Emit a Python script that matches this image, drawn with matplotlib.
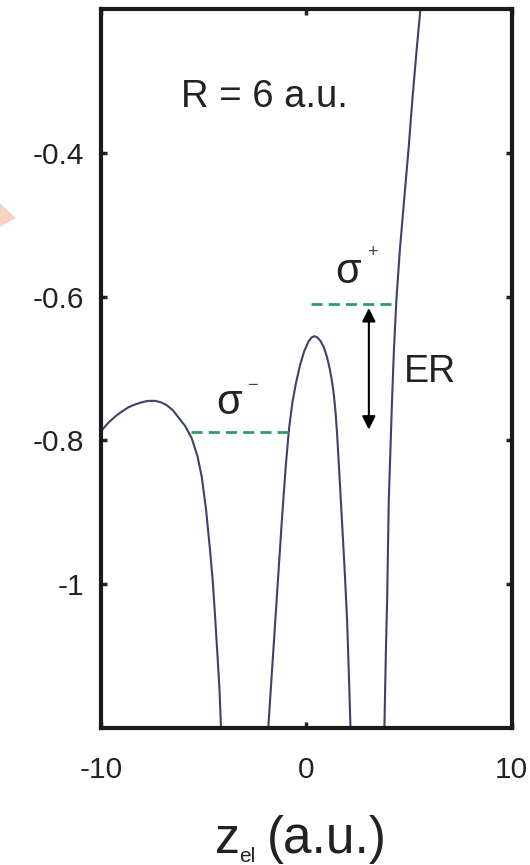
import numpy as np
import matplotlib
matplotlib.use('Agg')
import matplotlib.pyplot as plt
from matplotlib.patches import Polygon

plt.rcParams['font.family'] = ['Liberation Sans', 'DejaVu Sans']

# potential curve (three visible pieces between the nuclei)
z_left  = [-10.0, -9.66, -9.32, -8.99, -8.67, -8.34, -8.01, -7.70, -7.37, -7.08,
           -6.80, -6.50, -6.23, -5.90, -5.58, -5.30, -5.09, -4.88, -4.68, -4.55,
           -4.44, -4.33, -4.23, -4.16, -4.14]
v_left  = [-0.787, -0.776, -0.767, -0.760, -0.754, -0.750, -0.747, -0.745, -0.745, -0.747,
           -0.751, -0.758, -0.768, -0.780, -0.797, -0.822, -0.851, -0.897, -0.955, -0.998,
           -1.046, -1.097, -1.145, -1.195, -1.215]
z_mid   = [-1.86, -1.84, -1.51, -1.19, -1.00, -0.84, -0.68, -0.50, -0.30, -0.10,
           0.10, 0.25, 0.40, 0.55, 0.70, 0.85, 1.01, 1.14, 1.25, 1.35,
           1.43, 1.50, 1.62, 1.74, 1.87, 1.99, 2.07, 2.15, 2.17]
v_mid   = [-1.215, -1.195, -1.051, -0.912, -0.836, -0.784, -0.748, -0.720, -0.695, -0.676,
           -0.663, -0.657, -0.655, -0.657, -0.662, -0.670, -0.684, -0.700, -0.717, -0.738,
           -0.762, -0.790, -0.850, -0.912, -0.980, -1.051, -1.120, -1.195, -1.215]
z_right = [3.79, 3.81, 3.88, 3.94, 3.98, 4.02, 4.10, 4.18, 4.27, 4.39,
           4.56, 4.77, 4.98, 5.17, 5.38, 5.56, 5.60]
v_right = [-1.215, -1.195, -1.093, -1.023, -0.953, -0.884, -0.814, -0.744, -0.675, -0.605,
           -0.535, -0.465, -0.396, -0.326, -0.256, -0.201, -0.190]

# energy levels
sigma_minus = {'E': -0.788, 'z0': -5.6, 'z1': -0.83}
sigma_plus  = {'E': -0.610, 'z0': 0.24, 'z1': 4.44}
er_z = 3.05

fig = plt.figure(figsize=(5.30, 8.65), dpi=100)
ax = fig.add_axes([0.1906, 0.1584, 0.7745, 0.8312])

curve_col = '#3e4070'
for zz, vv in [(z_left, v_left), (z_mid, v_mid), (z_right, v_right)]:
    ax.plot(zz, vv, color=curve_col, lw=1.5, solid_capstyle='round')

level_col = '#2f9a6c'
for lev in (sigma_minus, sigma_plus):
    ax.plot([lev['z0'], lev['z1']], [lev['E'], lev['E']], color=level_col,
            lw=2.0, linestyle=(0, (4, 2.2)))

# ER double arrow
ax.annotate('', xy=(er_z, sigma_plus['E'] - 0.006), xytext=(er_z, sigma_minus['E'] + 0.003),
            arrowprops=dict(arrowstyle='<|-|>', color='black', lw=1.5,
                            mutation_scale=20, shrinkA=0, shrinkB=0))
ax.text(6.05, -0.705, 'ER', fontsize=27, ha='center', va='center', color='#222222')

ax.text(-2.05, -0.322, 'R = 6 a.u.', fontsize=27.5, ha='center', va='center', color='#222222')
ax.text(2.05, -0.566, 'σ', fontsize=30, ha='center', va='center', color='#222222')
ax.text(3.2, -0.538, '+', fontsize=13, ha='center', va='center', color='#444444')
ax.text(-3.76, -0.748, 'σ', fontsize=30, ha='center', va='center', color='#222222')
ax.text(-2.62, -0.723, '−', fontsize=13, ha='center', va='center', color='#444444')

ax.set_xlim(-10, 10)
ax.set_ylim(-1.2, -0.2)
ax.set_xticks([-10, 0, 10])
ax.set_xticklabels(['-10', '0', '10'])
ax.set_yticks([-1, -0.8, -0.6, -0.4])
ax.set_yticklabels(['-1', '-0.8', '-0.6', '-0.4'])
ax.tick_params(direction='in', length=4, width=2.5, labelsize=21.5, top=True, right=True,
               colors='#222222')
ax.tick_params(axis='x', pad=20)
ax.tick_params(axis='y', pad=12)
for sp in ax.spines.values():
    sp.set_linewidth(3.0)
    sp.set_color('#1a1a1a')

# x label: z_el (a.u.)
W, H = 530.0, 865.0
fig.text(215 / W, 1 - 853 / H, 'z', fontsize=36, ha='left', va='baseline', color='#222222')
fig.text(239 / W, 1 - 862 / H, 'el', fontsize=15, ha='left', va='baseline', color='#222222')
fig.text(267 / W, 1 - 853 / H, '(a.u.)', fontsize=37, ha='left', va='baseline', color='#222222')

# faint orange arrow tip from the neighbouring panel
fig.patches.append(Polygon([[0.0, 0.765], [0.03, 0.748], [0.0, 0.738]], closed=True,
                           transform=fig.transFigure, facecolor='#f0a070', alpha=0.45,
                           edgecolor='none'))

fig.savefig('out.png', dpi=100)
